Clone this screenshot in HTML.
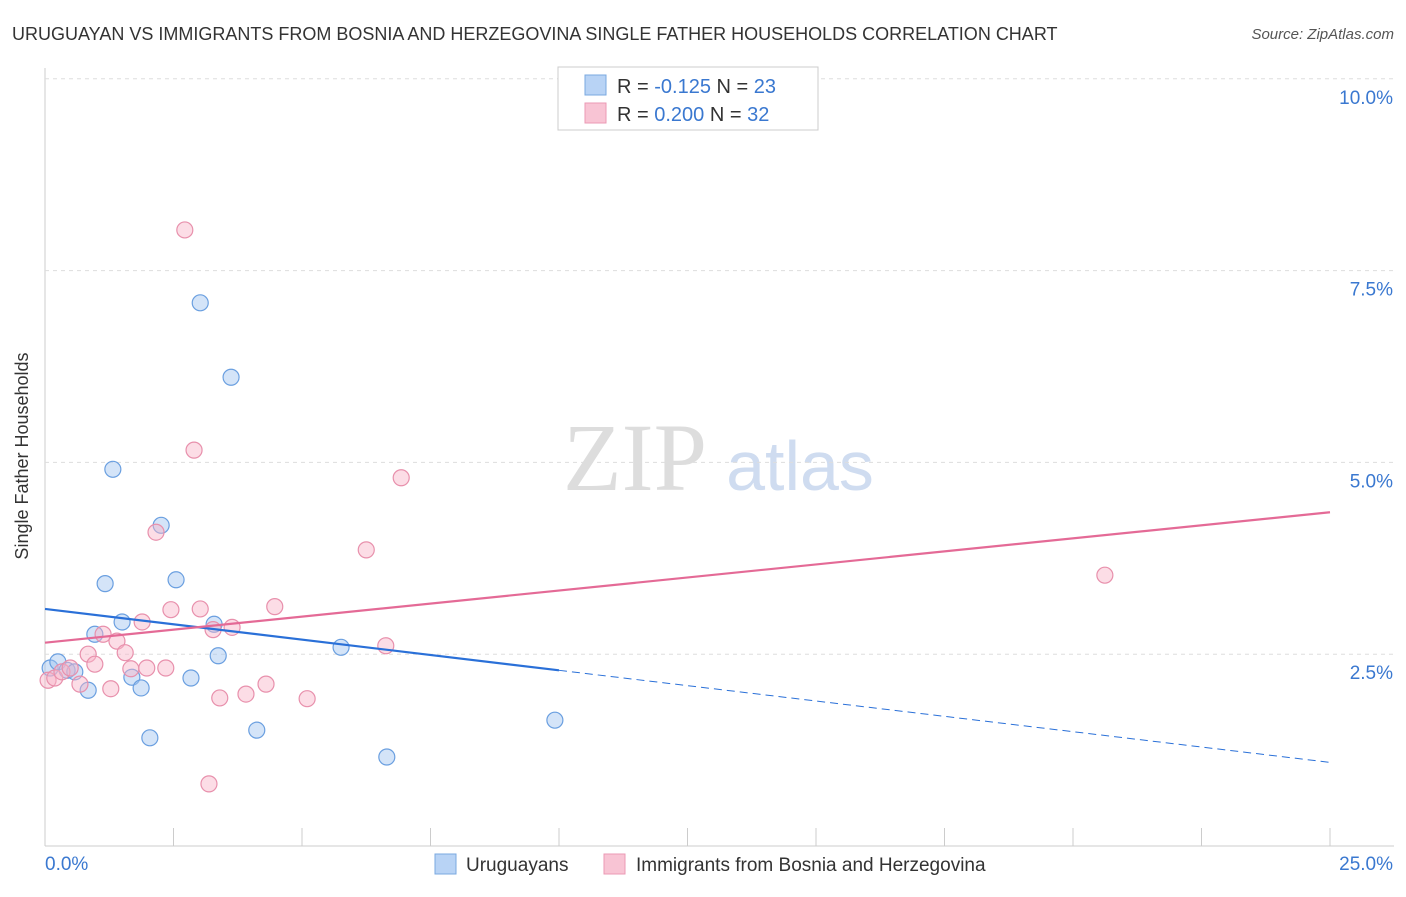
<!DOCTYPE html>
<html><head><meta charset="utf-8"><style>
body{margin:0;background:#fff;font-family:"Liberation Sans",sans-serif}
</style></head><body>
<svg width="1406" height="892" xmlns="http://www.w3.org/2000/svg" id="svg" font-family="Liberation Sans, sans-serif">
<text x="12" y="40" font-size="18" fill="#333">URUGUAYAN VS IMMIGRANTS FROM BOSNIA AND HERZEGOVINA SINGLE FATHER HOUSEHOLDS CORRELATION CHART</text>
<text x="1394" y="39" font-size="15" fill="#555" font-style="italic" text-anchor="end">Source: ZipAtlas.com</text>
<text x="28" y="456" font-size="18" fill="#333" text-anchor="middle" transform="rotate(-90 28 456)">Single Father Households</text>
<g><text x="635" y="490" font-size="96" fill="#ddd" font-family="Liberation Serif, serif" text-anchor="middle">ZIP</text><text x="800" y="490" font-size="70" fill="#cfdcf0" text-anchor="middle">atlas</text></g>
<g id="grid"></g><g id="marks"></g>
<g>
<rect x="558" y="67" width="260" height="63" fill="#fff" stroke="#ccc"/>
<rect x="585" y="75" width="21" height="20" fill="#b8d3f5" stroke="#7aa8e0"/>
<rect x="585" y="103" width="21" height="20" fill="#f8c4d4" stroke="#eb9ab4"/>
<text x="617" y="93" font-size="20" fill="#333">R = <tspan fill="#3a78d0">-0.125</tspan>   N = <tspan fill="#3a78d0">23</tspan></text>
<text x="617" y="121" font-size="20" fill="#333">R =  <tspan fill="#3a78d0">0.200</tspan>   N = <tspan fill="#3a78d0">32</tspan></text>
</g>
<g>
<rect x="435" y="854" width="21" height="20" fill="#b8d3f5" stroke="#7aa8e0"/>
<text x="466" y="871" font-size="19" fill="#333">Uruguayans</text>
<rect x="604" y="854" width="21" height="20" fill="#f8c4d4" stroke="#eb9ab4"/>
<text x="636" y="871" font-size="19" fill="#333">Immigrants from Bosnia and Herzegovina</text>
</g>
</svg>
<script>
const yTicks=[2.5,5.0,7.5,10.0];
const blueX=[0.1,0.25,0.43,0.58,0.84,0.97,1.17,1.32,1.50,1.69,1.87,2.04,2.26,2.55,2.84,3.02,3.29,3.37,3.62,4.12,5.76,6.65,9.92];
const blueY=[2.32,2.40,2.29,2.27,2.03,2.76,3.42,4.91,2.92,2.20,2.06,1.41,4.18,3.47,2.19,7.08,2.89,2.48,6.11,1.51,2.59,1.16,1.64];
const pinkX=[0.06,0.19,0.33,0.49,0.68,0.84,0.97,1.13,1.28,1.40,1.56,1.67,1.89,1.98,2.16,2.35,2.45,2.72,2.90,3.02,3.19,3.27,3.40,3.64,3.91,4.30,4.47,5.10,6.25,6.63,6.93,20.62];
const pinkY=[2.16,2.19,2.27,2.32,2.11,2.50,2.37,2.76,2.05,2.67,2.52,2.31,2.92,2.32,4.09,2.32,3.08,8.03,5.16,3.09,0.81,2.82,1.93,2.85,1.98,2.11,3.12,1.92,3.86,2.61,4.80,3.53];
const blueTrend=[3.09,1.09];const pinkTrend=[2.65,4.35];
const X=v=>45+v*51.4, Y=v=>846-v*76.72;
const NS="http://www.w3.org/2000/svg";
function mk(p,t,a){const e=document.createElementNS(NS,t);for(const k in a)e.setAttribute(k,a[k]);p.appendChild(e);return e;}
const g=document.getElementById('grid'),m=document.getElementById('marks');
let ax=mk(g,'line',{x1:45,y1:68,x2:45,y2:846,stroke:'#ccc'});


let bx=mk(g,'line',{x1:45,y1:846,x2:1394,y2:846,stroke:'#ccc'});


for(let i=1;i<=10;i++){let t=mk(g,'line',{x1:X(i*2.5),y1:828,x2:X(i*2.5),y2:846,stroke:'#ccc'});

}
yTicks.forEach(v=>{let l=mk(g,'line',{x1:45,y1:Y(v),x2:1394,y2:Y(v),stroke:'#ddd','stroke-dasharray':'4 4'});


let t=mk(g,'text',{x:1393,y:Y(v)+25,'font-size':19,fill:'#3a78d0','text-anchor':'end'});t.textContent=v.toFixed(1)+'%';

});
[[0,'0.0%','start',45],[25,'25.0%','end',1393]].forEach(a=>{let t=mk(g,'text',{x:a[3],y:870,'font-size':19,fill:'#3a78d0','text-anchor':a[2]});t.textContent=a[1];

});
blueX.forEach((x,i)=>{let c=mk(m,'circle',{cx:X(x),cy:Y(blueY[i]),r:8,fill:'rgba(160,196,240,0.45)',stroke:'#6a9fe0','stroke-width':1.2});

});
pinkX.forEach((x,i)=>{let c=mk(m,'circle',{cx:X(x),cy:Y(pinkY[i]),r:8,fill:'rgba(248,180,200,0.45)',stroke:'#e890ac','stroke-width':1.2});

});
const by=x=>blueTrend[0]+(blueTrend[1]-blueTrend[0])*x/25;
let l1=mk(m,'line',{x1:X(0),y1:Y(by(0)),x2:X(10),y2:Y(by(10)),stroke:'#2a70d8','stroke-width':2.2});


let l2=mk(m,'line',{x1:X(10),y1:Y(by(10)),x2:X(25),y2:Y(by(25)),stroke:'#2a70d8','stroke-width':1,'stroke-dasharray':'8 5'});


let l3=mk(m,'line',{x1:X(0),y1:Y(pinkTrend[0]),x2:X(25),y2:Y(pinkTrend[1]),stroke:'#e46a96','stroke-width':2.2});


</script>
</body></html>
